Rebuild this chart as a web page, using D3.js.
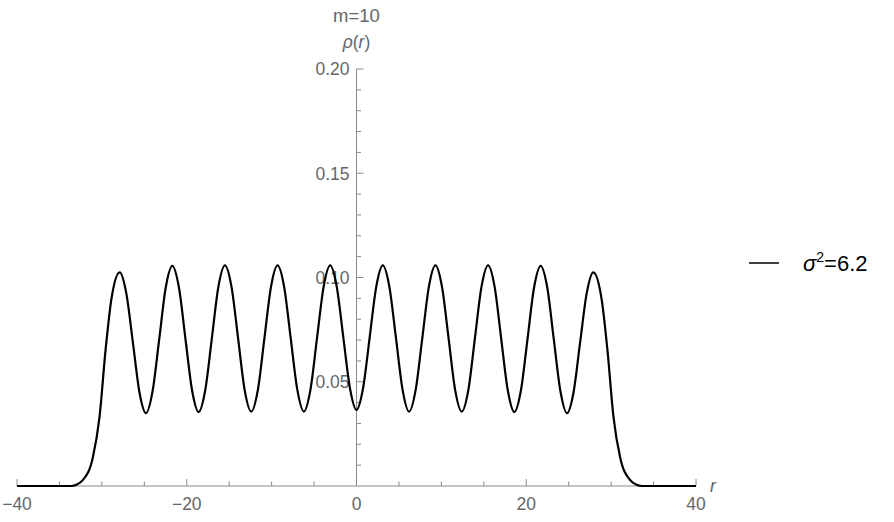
<!DOCTYPE html>
<html><head><meta charset="utf-8">
<script src="https://cdn.jsdelivr.net/npm/d3@7"></script>
<style>body{margin:0;background:#fff}svg{display:block}text{font-family:"Liberation Sans",Arial,sans-serif}</style>
</head><body><svg id="c" width="894" height="522"></svg>
<script>
const title = "m=10";
const seriesLabel = "6.2";
const rValues = [-40,-35,-33.6,-33,-32.25,-31.07,-30.28,-29.57,-28.9,-27.9,-27.125,-26.35,-25.575,-24.8,-24.025,-23.25,-22.475,-21.7,-20.925,-20.15,-19.375,-18.6,-17.825,-17.05,-16.275,-15.5,-14.725,-13.95,-13.175,-12.4,-11.625,-10.85,-10.075,-9.3,-8.525,-7.75,-6.975,-6.2,-5.425,-4.65,-3.875,-3.1,-2.325,-1.55,-0.775,0,0.775,1.55,2.325,3.1,3.875,4.65,5.425,6.2,6.975,7.75,8.525,9.3,10.075,10.85,11.625,12.4,13.175,13.95,14.725,15.5,16.275,17.05,17.825,18.6,19.375,20.15,20.925,21.7,22.475,23.25,24.025,24.8,25.575,26.35,27.125,27.9,28.9,29.57,30.28,31.07,32.25,33,33.6,35,40];
const rhoValues = [0,0,0,0.0006,0.0028,0.0136,0.033,0.065,0.089,0.1025,0.0925,0.069,0.045,0.035,0.0455,0.0702,0.0952,0.1056,0.0953,0.0705,0.0459,0.0355,0.0459,0.0706,0.0955,0.1058,0.0955,0.0708,0.046,0.0357,0.046,0.0708,0.0955,0.1058,0.0955,0.0708,0.0462,0.0357,0.0462,0.071,0.0955,0.1058,0.0955,0.0712,0.047,0.0365,0.047,0.0712,0.0955,0.1058,0.0955,0.071,0.0462,0.0357,0.0462,0.0708,0.0955,0.1058,0.0955,0.0708,0.046,0.0357,0.046,0.0708,0.0955,0.1058,0.0955,0.0706,0.0459,0.0355,0.0459,0.0705,0.0953,0.1056,0.0952,0.0702,0.0455,0.035,0.045,0.069,0.0925,0.1025,0.089,0.065,0.033,0.0136,0.0028,0.0006,0,0,0];
const xMajorTicks = [-40,-20,0,20,40];
const xMinorTicks = [-35,-30,-25,-15,-10,-5,5,10,15,25,30,35];
const yMajorTicks = [0.05,0.10,0.15,0.20];
const yMinorTicks = [0.01,0.02,0.03,0.04,0.06,0.07,0.08,0.09,0.11,0.12,0.13,0.14,0.16,0.17,0.18,0.19];
const yTickLabels = ["0.05","0.10","0.15","0.20"];
const xTickLabels = ["\u221240","\u221220","0","20","40"];

const svg = d3.select("#c");
const x = d3.scaleLinear().domain([-40,40]).range([17,696]);
const y = d3.scaleLinear().domain([0,0.2]).range([486,69]);
const axisCol = "#8a8a8a", labCol = "#666";
const x0 = x(0);

// x axis
svg.append("line").attr("x1",x(-40)).attr("x2",x(40)).attr("y1",y(0)).attr("y2",y(0)).attr("stroke",axisCol).attr("stroke-width",1);
svg.selectAll(".xmaj").data(xMajorTicks).enter().append("line")
  .attr("x1",d=>x(d)).attr("x2",d=>x(d)).attr("y1",y(0)).attr("y2",y(0)-7).attr("stroke",axisCol);
svg.selectAll(".xmin").data(xMinorTicks).enter().append("line")
  .attr("x1",d=>x(d)).attr("x2",d=>x(d)).attr("y1",y(0)).attr("y2",y(0)-4.5).attr("stroke",axisCol);
svg.selectAll(".xl").data(xMajorTicks).enter().append("text")
  .attr("x",d=>x(d)).attr("y",y(0)+24).attr("text-anchor","middle").attr("fill",labCol).attr("font-size",17.5)
  .text((d,i)=>xTickLabels[i]);
// y axis
svg.append("line").attr("x1",x0).attr("x2",x0).attr("y1",y(0)).attr("y2",y(0.2)).attr("stroke",axisCol);
svg.selectAll(".ymaj").data(yMajorTicks).enter().append("line")
  .attr("x1",x0).attr("x2",x0+7).attr("y1",d=>y(d)).attr("y2",d=>y(d)).attr("stroke",axisCol);
svg.selectAll(".ymin").data(yMinorTicks).enter().append("line")
  .attr("x1",x0).attr("x2",x0+4.5).attr("y1",d=>y(d)).attr("y2",d=>y(d)).attr("stroke",axisCol);
svg.selectAll(".yl").data(yMajorTicks).enter().append("text")
  .attr("x",x0-7).attr("y",d=>y(d)).attr("dy","0.36em").attr("text-anchor","end").attr("fill",labCol).attr("font-size",17.5)
  .text((d,i)=>yTickLabels[i]);
// axis labels
svg.append("text").attr("x",710).attr("y",492).attr("fill",labCol).attr("font-size",18).attr("font-style","italic").text("r");
const yl = svg.append("text").attr("x",x0).attr("y",48).attr("text-anchor","middle").attr("fill",labCol).attr("font-size",17.5);
yl.append("tspan").attr("font-style","italic").text("\u03C1");
yl.append("tspan").text("(");
yl.append("tspan").attr("font-style","italic").text("r");
yl.append("tspan").text(")");
svg.append("text").attr("x",x0).attr("y",22).attr("text-anchor","middle").attr("fill",labCol).attr("font-size",18.5).text(title);

// curve
const pts = rValues.map((r,i)=>[r,rhoValues[i]]);
svg.append("path").datum(pts).attr("fill","none").attr("stroke","#000").attr("stroke-width",2.2)
  .attr("d", d3.line().x(d=>x(d[0])).y(d=>y(d[1])).curve(d3.curveMonotoneX));

// legend
svg.append("line").attr("x1",749).attr("x2",779).attr("y1",263).attr("y2",263).attr("stroke","#000").attr("stroke-width",1.5);
const lt = svg.append("text").attr("x",803).attr("y",271).attr("fill","#000").attr("font-size",22);
lt.append("tspan").attr("font-style","italic").text("\u03C3");
lt.append("tspan").attr("font-size",14).attr("dy",-9).text("2");
lt.append("tspan").attr("dy",9).text("=" + seriesLabel);
</script></body></html>
